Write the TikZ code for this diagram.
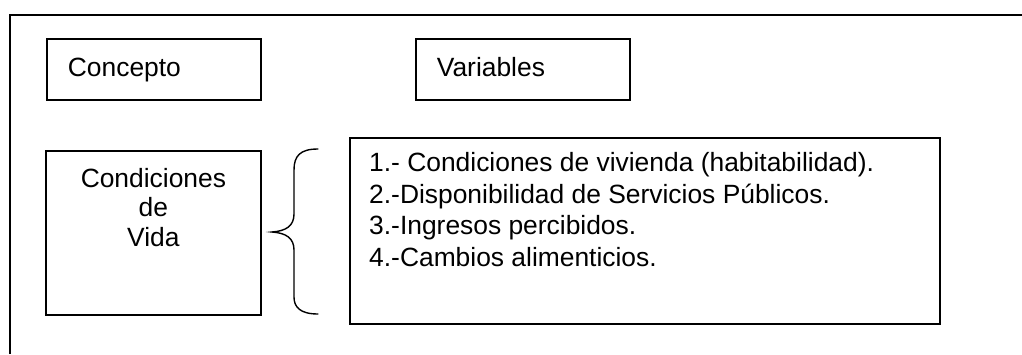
\documentclass[tikz,border=0pt]{standalone}
\usepackage{fontspec}
\setmainfont{Liberation Sans}
\usetikzlibrary{positioning}

\newcommand\textosize{\fontsize{26.4}{31.7}\selectfont}
\newcommand\lineawidth{1.8pt}

\tikzset{
  marco/.style={line width=\lineawidth},
  caja/.style={draw, line width=\lineawidth, inner sep=0pt, anchor=north west},
  titulo/.style={caja, inner xsep=21pt, align=left, text height=19pt, text depth=5pt},
  texto/.style={inner sep=0pt, anchor=north},
  llave/.style={line width=1.4pt, line cap=round}
}

\begin{document}
\begin{tikzpicture}[x=1pt, y=-1pt, font=\textosize]
  \useasboundingbox (0,0) rectangle (1022,354);

  % marco exterior
  \draw[marco] (10,354) -- (10,15) -- (1022,15);

  % encabezados
  \node[titulo, minimum width=214pt, minimum height=61pt, text width=172pt]
    (concepto) at (46,38) {Concepto};
  \node[titulo, minimum width=214pt, minimum height=61pt, text width=172pt]
    (variables) at (415,38) {Variables};

  % concepto
  \node[caja, minimum width=215pt, minimum height=164pt] (condiciones) at (45,150) {};
  \node[texto, align=center, below=18pt of condiciones.north, anchor=north,
        execute at begin node=\setlength{\baselineskip}{29.5pt}]
    (condtxt) {Condiciones\\de\\Vida};

  % lista de variables
  \node[caja, minimum width=590pt, minimum height=186pt] (lista) at (349,137) {};
  \node[texto, align=left, anchor=north west] (listatxt) at (369,152)
    {1.- Condiciones de vivienda (habitabilidad).\\
     2.-Disponibilidad de Servicios P\'ublicos.\\
     3.-Ingresos percibidos.\\
     4.-Cambios alimenticios.};

  % llave
  \coordinate (llavearriba) at (318,149);
  \coordinate (llavepunta) at (272,232);
  \coordinate (llaveabajo) at (318,314);
  \draw[llave] (llavearriba) .. controls (300,149) and (294,156) .. (294,170)
    -- (294,214) .. controls (294,226) and (286,231) .. (llavepunta)
    .. controls (286,233) and (294,238) .. (294,250)
    -- (294,297) .. controls (294,307) and (300,314) .. (llaveabajo);
\end{tikzpicture}
\end{document}
